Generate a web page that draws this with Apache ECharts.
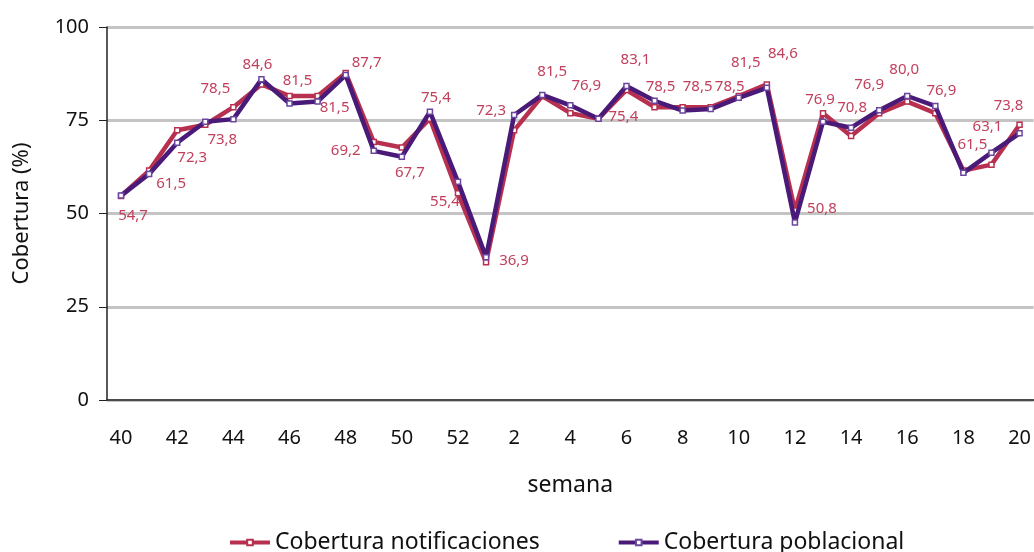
<!DOCTYPE html>
<html>
<head>
<meta charset="utf-8">
<script src="https://cdn.jsdelivr.net/npm/echarts@6/dist/echarts.min.js"></script>
<style>
  html, body { margin: 0; padding: 0; background: #fff; }
  #chart { width: 1034px; height: 552px; }
</style>
</head>
<body>
<div id="chart"></div>
<script>
const weeks = ['40','41','42','43','44','45','46','47','48','49','50','51','52',
  '1','2','3','4','5','6','7','8','9','10','11','12','13','14','15','16','17','18','19','20'];

const notificaciones = [54.7, 61.5, 72.3, 73.8, 78.5, 84.6, 81.5, 81.5, 87.7, 69.2, 67.7, 75.4, 55.4,
  36.9, 72.3, 81.5, 76.9, 75.4, 83.1, 78.5, 78.5, 78.5, 81.5, 84.6, 50.8, 76.9, 70.8, 76.9, 80.0, 76.9, 61.5, 63.1, 73.8];

const poblacional = [54.8, 60.6, 69.0, 74.6, 75.3, 86.0, 79.5, 80.0, 87.1, 66.8, 65.2, 77.3, 58.5,
  38.3, 76.4, 81.8, 79.0, 75.4, 84.2, 80.2, 77.6, 78.0, 81.0, 83.7, 47.6, 74.6, 73.0, 77.7, 81.5, 78.8, 60.9, 66.3, 71.5];

// where each value label sits relative to its point (dx, dy in px)
const labelOffsets = [
  [12, 20], [22, 13], [15, 27], [17, 15], [-18, -18], [-4, -20], [8, -15], [17, 12], [21, -10],
  [-28, 9], [8, 25], [6, -21], [-13, 8], [28, -2], [-23, -20], [10, -24], [16, -27], [25, -2],
  [9, -30], [6, -20], [15, -20], [19, -20], [7, -33], [16, -31], [27, -2], [-3, -13], [1, -28],
  [-10, -28], [-3, -32], [6, -22], [9, -26], [-4, -38], [-11, -19]
];

const red = '#b8304f';
const purple = '#4a1a78';
const font = '"Noto Sans", "DejaVu Sans", sans-serif';

const chart = echarts.init(document.getElementById('chart'));

chart.setOption({
  animation: false,
  textStyle: { fontFamily: font },
  grid: { left: 107, right: 0, top: 27, bottom: 152 },
  legend: {
    top: 531,
    left: 228,
    padding: 0,
    itemGap: 77,
    itemWidth: 40,
    itemHeight: 7,
    lineStyle: { width: 4 },
    textStyle: { fontSize: 23, color: '#111', fontFamily: font },
    data: ['Cobertura notificaciones', 'Cobertura poblacional']
  },
  xAxis: {
    type: 'category',
    data: weeks,
    boundaryGap: true,
    name: 'semana',
    nameLocation: 'middle',
    nameGap: 74,
    nameTextStyle: { fontSize: 23, color: '#111' },
    axisLine: { lineStyle: { color: '#222', width: 1.5 } },
    axisTick: { interval: 0, length: 8, lineStyle: { color: '#222' } },
    axisLabel: { interval: 1, fontSize: 20, color: '#111', margin: 28 }
  },
  yAxis: {
    type: 'value',
    min: 0,
    max: 100,
    interval: 25,
    name: 'Cobertura (%)',
    nameLocation: 'middle',
    nameGap: 74,
    nameTextStyle: { fontSize: 22, color: '#111' },
    axisLine: { show: true, lineStyle: { color: '#222', width: 1.5 } },
    axisTick: { show: true, length: 8, lineStyle: { color: '#222' } },
    axisLabel: { fontSize: 20, color: '#111', margin: 18 },
    splitLine: { lineStyle: { color: '#c4c4c4', width: 3 } }
  },
  series: [
    {
      name: 'Cobertura notificaciones',
      type: 'line',
      data: notificaciones.map((v, i) => ({
        value: v,
        label: { offset: labelOffsets[i] }
      })),
      symbol: 'rect',
      symbolSize: 5,
      lineStyle: { color: red, width: 4.5 },
      itemStyle: { color: '#fff', borderColor: red, borderWidth: 1.5 },
      label: {
        show: true,
        position: 'inside',
        align: 'center',
        verticalAlign: 'middle',
        color: '#c2405c',
        fontSize: 15,
        formatter: p => p.value.toFixed(1).replace('.', ',')
      },
      z: 3
    },
    {
      name: 'Cobertura poblacional',
      type: 'line',
      data: poblacional,
      symbol: 'rect',
      symbolSize: 5,
      lineStyle: { color: purple, width: 4.5 },
      itemStyle: { color: '#fff', borderColor: '#6a46a0', borderWidth: 1.5 },
      z: 4
    }
  ]
});
</script>
</body>
</html>
